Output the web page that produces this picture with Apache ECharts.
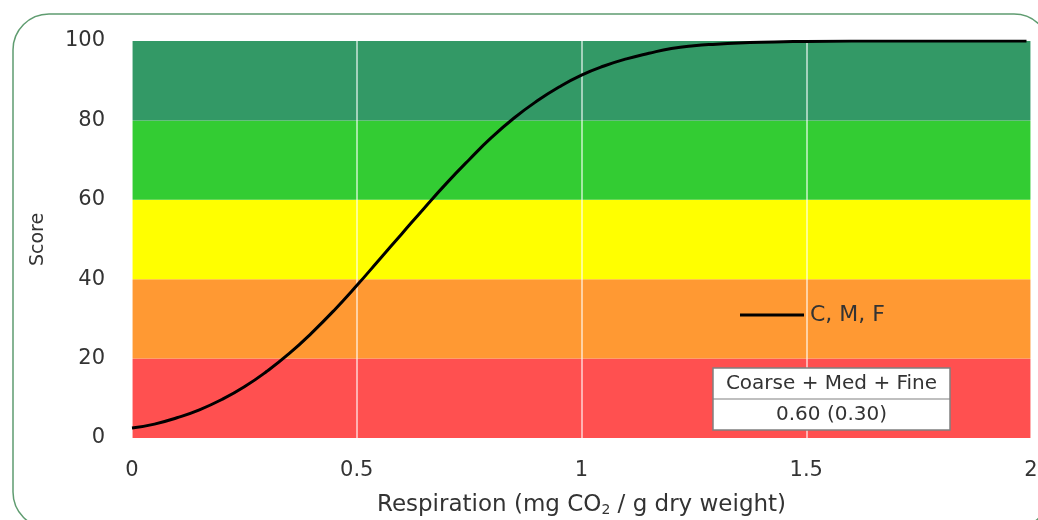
<!DOCTYPE html>
<html>
<head>
<meta charset="utf-8">
<script src="https://cdn.jsdelivr.net/npm/echarts@6/dist/echarts.min.js"></script>
<style>
html,body{margin:0;padding:0;background:#fff;}
#chart{width:1038px;height:520px;}
</style>
</head>
<body>
<div id="chart"></div>
<script>
// Data
const xValues = [0, 0.05, 0.1, 0.15, 0.2, 0.25, 0.3, 0.35, 0.4, 0.45, 0.5, 0.55, 0.6, 0.65, 0.7, 0.75, 0.8, 0.85, 0.9, 0.95, 1.0, 1.05, 1.1, 1.15, 1.2, 1.25, 1.3, 1.35, 1.4, 1.45, 1.5, 1.6, 1.7, 1.8, 1.9, 1.99];
const scoreValues = [2.5, 3.5, 5.1, 7.1, 9.7, 12.9, 16.8, 21.3, 26.5, 32.2, 38.4, 44.9, 51.4, 57.9, 64.2, 70.1, 75.7, 80.6, 84.8, 88.4, 91.4, 93.7, 95.5, 96.9, 98.1, 98.8, 99.2, 99.5, 99.7, 99.8, 99.9, 99.97, 100, 100, 100, 100];
const seriesName = 'C, M, F';
const bandLower = [0, 20, 40, 60, 80];
const bandUpper = [20, 40, 60, 80, 100];
const bandColors = ['#ff5050', '#ff9933', '#ffff00', '#33cc33', '#339966'];
const xTicks = [0, 0.5, 1, 1.5, 2];
const yTicks = [0, 20, 40, 60, 80, 100];
const tableHeader = 'Coarse + Med + Fine';
const tableValue = '0.60 (0.30)';

const FONT = 'DejaVu Sans';
const TXT = '#333333';

const chart = echarts.init(document.getElementById('chart'), null, {renderer: 'canvas'});

const curveData = xValues.map((x, i) => [x, scoreValues[i]]);
const bandAreas = bandLower.map((lo, i) => [
  {yAxis: lo, itemStyle: {color: bandColors[i], opacity: 1}},
  {yAxis: bandUpper[i]}
]);

const option = {
  animation: false,
  backgroundColor: '#ffffff',
  grid: {left: 132, right: 7, top: 41, bottom: 82, containLabel: false, outerBoundsMode: 'none'},
  xAxis: {
    type: 'value',
    min: xTicks[0],
    max: xTicks[xTicks.length - 1],
    interval: 0.5,
    z: 3,
    axisLine: {show: false},
    axisTick: {show: false},
    axisLabel: {
      margin: 22,
      color: TXT,
      fontFamily: FONT,
      fontSize: 21
    },
    splitLine: {show: true, lineStyle: {color: 'rgba(255,255,255,0.75)', width: 1.5}},
    name: 'Respiration (mg CO{sub|2} / g dry weight)',
    nameLocation: 'middle',
    nameGap: 55,
    nameTextStyle: {
      color: TXT,
      fontFamily: FONT,
      fontSize: 23,
      rich: {
        sub: {fontSize: 14, fontFamily: FONT, color: TXT, verticalAlign: 'bottom', padding: [10, 0, 0, 0]}
      }
    }
  },
  yAxis: {
    type: 'value',
    min: yTicks[0],
    max: yTicks[yTicks.length - 1],
    interval: 20,
    axisLine: {show: false},
    axisTick: {show: false},
    splitLine: {show: false},
    axisLabel: {
      margin: 27,
      color: TXT,
      fontFamily: FONT,
      fontSize: 21
    },
    name: 'Score',
    nameLocation: 'middle',
    nameGap: 84,
    nameTextStyle: {color: TXT, fontFamily: FONT, fontSize: 19}
  },
  legend: {
    data: [seriesName],
    left: 735,
    top: 299,
    icon: 'rect',
    itemWidth: 64,
    itemHeight: 3,
    textStyle: {color: TXT, fontFamily: FONT, fontSize: 22, padding: [0, 0, 0, 1]}
  },
  series: [
    {
      name: 'bands',
      type: 'line',
      data: [],
      z: 1,
      silent: true,
      markArea: {silent: true, data: bandAreas}
    },
    {
      name: seriesName,
      type: 'line',
      data: curveData,
      smooth: true,
      symbol: 'none',
      z: 5,
      lineStyle: {color: '#000000', width: 3},
      itemStyle: {color: '#000000'}
    }
  ],
  graphic: [
    {
      type: 'rect',
      silent: true,
      z: 0,
      shape: {x: 13, y: 14, width: 1037, height: 514, r: 36},
      style: {fill: null, stroke: '#5f9c70', lineWidth: 1.5}
    },
    {type: 'rect', z: 100, silent: true, shape: {x: 713, y: 368, width: 237, height: 62}, style: {fill: '#ffffff', stroke: '#808080', lineWidth: 1.5}},
    {type: 'line', z: 101, silent: true, shape: {x1: 713, y1: 399, x2: 950, y2: 399}, style: {stroke: '#808080', lineWidth: 1.2}},
    {type: 'text', z: 102, silent: true, x: 831.5, y: 384, style: {text: tableHeader, align: 'center', verticalAlign: 'middle', fill: TXT, font: '20px "DejaVu Sans"'}},
    {type: 'text', z: 102, silent: true, x: 831.5, y: 415, style: {text: tableValue, align: 'center', verticalAlign: 'middle', fill: TXT, font: '20px "DejaVu Sans"'}}
  ]
};

chart.setOption(option);
</script>
</body>
</html>
